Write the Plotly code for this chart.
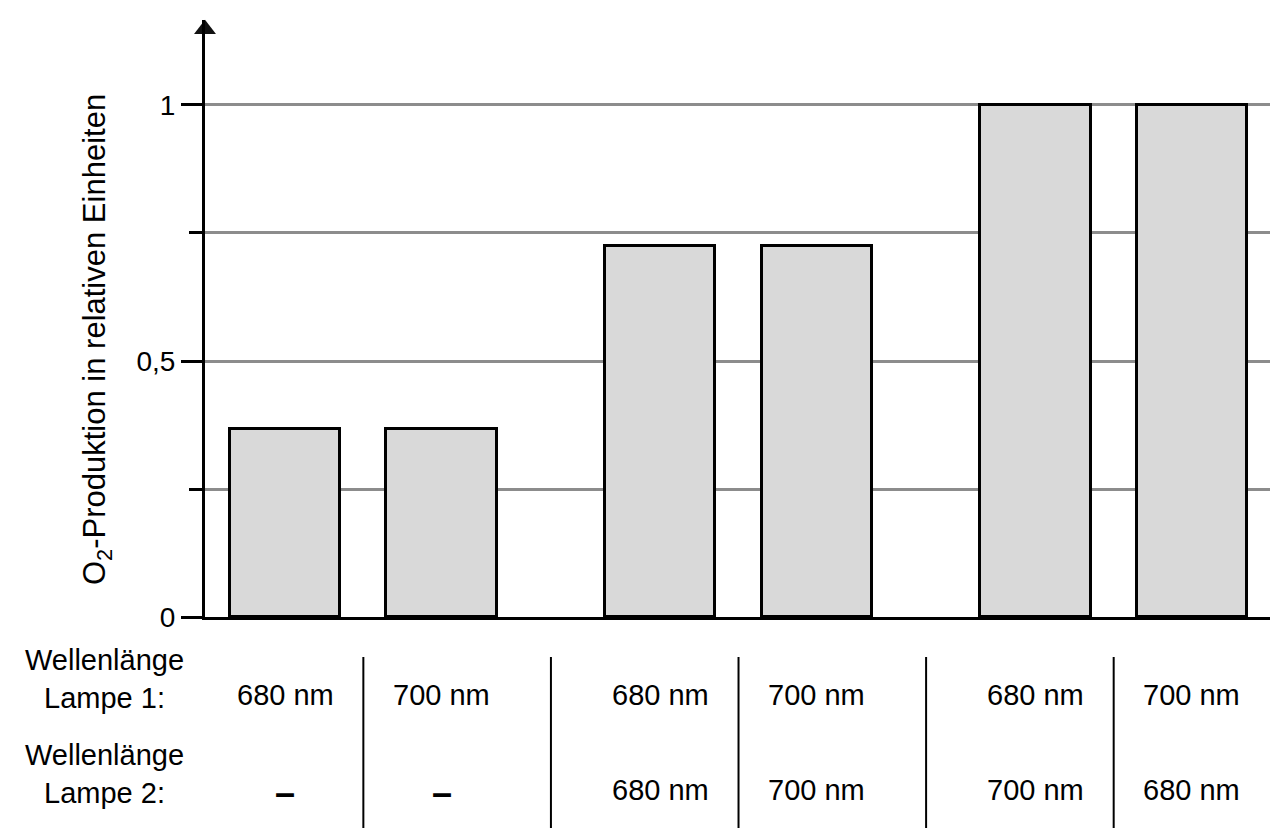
import plotly.graph_objects as go

# ---- data ----
lamp1 = ["680 nm", "700 nm", "680 nm", "700 nm", "680 nm", "700 nm"]
lamp2 = ["–", "–", "680 nm", "700 nm", "700 nm", "680 nm"]
o2_values = [0.367, 0.367, 0.725, 0.725, 1.0, 1.0]
y_tickvals = [0, 0.5, 1]
y_ticktext = ["0", "0,5", "1"]
row_labels = ["Wellenlänge<br>Lampe 1:", "Wellenlänge<br>Lampe 2:"]
y_title = "O<sub>2</sub>-Produktion in relativen Einheiten"

# ---- layout helpers ----
GROUP_STEP = 2.4
positions = [(i // 2) * GROUP_STEP + (i % 2) for i in range(len(o2_values))]
x_range = [-0.513, positions[-1] + 0.50]
y_range = [0, 1.166]

FONT = "Liberation Sans, Arial, sans-serif"
FS = 29
W, H = 1288, 838
ML, MR, MT, MB = 205, 18, 20, 221
plot_w = W - ML - MR
plot_h = H - MT - MB


def py(pix):
    """pixel row -> paper y"""
    return (H - MB - pix) / plot_h


def px(pix):
    """pixel column -> paper x"""
    return (pix - ML) / plot_w


fig = go.Figure()
fig.add_trace(go.Bar(
    x=positions, y=o2_values, width=0.705,
    marker=dict(color="#d9d9d9", line=dict(color="black", width=3)),
    hoverinfo="skip", showlegend=False,
))

# arrow head on y axis
fig.add_trace(go.Scatter(
    x=[x_range[0]], y=[1.148], mode="markers",
    marker=dict(symbol="triangle-up", size=19, color="#111"),
    cliponaxis=False, showlegend=False, hoverinfo="skip",
))

annotations = []
for i, pos in enumerate(positions):
    annotations.append(dict(x=pos, y=py(695), xref="x", yref="paper",
                            xanchor="center", yanchor="middle",
                            text=lamp1[i], showarrow=False,
                            font=dict(size=FS, color="black", family=FONT)))
    t2 = lamp2[i]
    if t2 == "–":
        annotations.append(dict(x=pos, y=py(792), xref="x", yref="paper",
                                xanchor="center", yanchor="middle",
                                text="<b>–</b>", showarrow=False,
                                font=dict(size=36, color="black", family=FONT)))
    else:
        annotations.append(dict(x=pos, y=py(790), xref="x", yref="paper",
                                xanchor="center", yanchor="middle",
                                text=t2, showarrow=False,
                                font=dict(size=FS, color="black", family=FONT)))

for lbl, yp in zip(row_labels, [679, 774]):
    annotations.append(dict(x=px(104), y=py(yp),
                            xref="paper", yref="paper", text=lbl,
                            xanchor="center", yanchor="middle",
                            showarrow=False, align="center",
                            font=dict(size=FS, color="black", family=FONT)))

# y-axis title (as rotated text so it can sit where the reference has it)
annotations.append(dict(x=px(97), y=py(340), xref="paper", yref="paper",
                        text=y_title, textangle=-90, showarrow=False,
                        xanchor="center", yanchor="middle",
                        font=dict(size=31, color="black", family=FONT)))

shapes = []
for a, b in zip(positions[:-1], positions[1:]):
    xm = (a + b) / 2
    shapes.append(dict(type="line", xref="x", yref="paper",
                       x0=xm, x1=xm, y0=py(657), y1=py(828),
                       line=dict(color="black", width=2)))

fig.update_layout(
    width=W, height=H,
    margin=dict(l=ML, r=MR, t=MT, b=MB, autoexpand=False),
    plot_bgcolor="white", paper_bgcolor="white",
    font=dict(family=FONT, color="black", size=FS),
    bargap=0,
    annotations=annotations,
    shapes=shapes,
    xaxis=dict(range=x_range, showgrid=False, zeroline=False,
               showticklabels=False, ticks="",
               showline=True, linecolor="black", linewidth=3),
    yaxis=dict(range=y_range, tickvals=y_tickvals, ticktext=y_ticktext,
               ticks="outside", ticklen=21, tickwidth=3, tickcolor="black",
               ticklabelstandoff=0, automargin=False,
               tickfont=dict(size=28, family=FONT, color="black"),
               showgrid=True, gridcolor="#8c8c8c", gridwidth=3,
               zeroline=False,
               showline=True, linecolor="black", linewidth=3,
               minor=dict(dtick=0.25, ticks="outside", ticklen=13,
                          tickwidth=3, tickcolor="black",
                          showgrid=True, gridcolor="#8c8c8c", gridwidth=3)),
)

fig.write_html("out.html", config={"displayModeBar": False},
               post_script="document.body.style.margin='0';")
